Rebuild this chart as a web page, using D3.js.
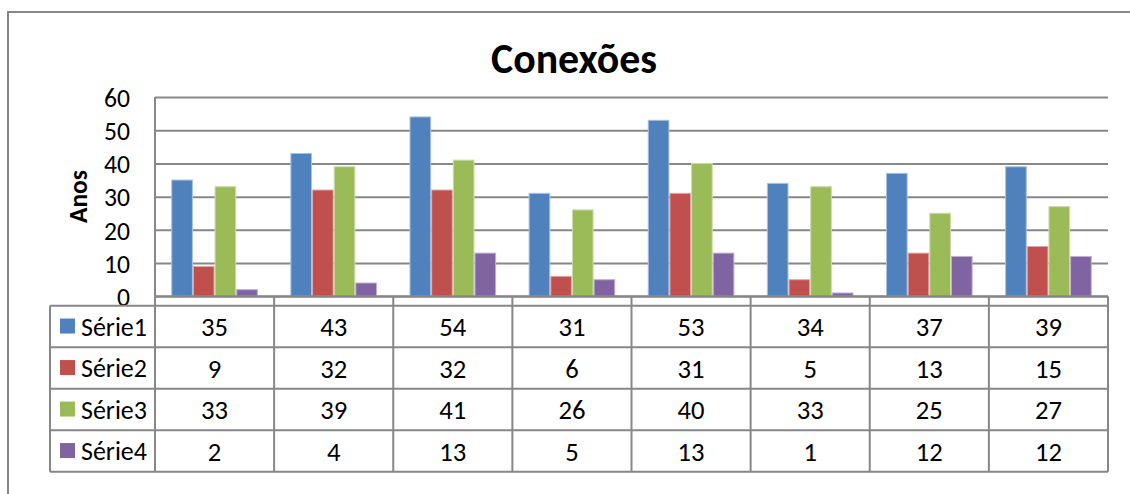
<!DOCTYPE html>
<html>
<head>
<meta charset="utf-8">
<script src="https://cdn.jsdelivr.net/npm/d3@7"></script>
<style>
  html, body { margin: 0; padding: 0; background: #fff; }
  svg { display: block; }
  text { font-family: Carlito, Calibri, Lato, "Open Sans", sans-serif; fill: #000; }
</style>
</head>
<body>
<svg id="chart" width="1130" height="494"></svg>
<script>
// ---- data ----
const title = "Conexões";
const yAxisTitle = "Anos";
const categories = ["1", "2", "3", "4", "5", "6", "7", "8"];
const seriesNames = ["Série1", "Série2", "Série3", "Série4"];
const serie1 = [35, 43, 54, 31, 53, 34, 37, 39];
const serie2 = [9, 32, 32, 6, 31, 5, 13, 15];
const serie3 = [33, 39, 41, 26, 40, 33, 25, 27];
const serie4 = [2, 4, 13, 5, 13, 1, 12, 12];
const yTicks = [0, 10, 20, 30, 40, 50, 60];
const colors = ["#4F81BD", "#C0504D", "#9BBB59", "#8064A2"];
const edgeColors = ["#a9c1e0", "#e0a8a6", "#cddcab", "#bfb1d1"];

const seriesValues = [serie1, serie2, serie3, serie4];

// ---- layout ----
const svg = d3.select("#chart");
const FONT = "Carlito, Calibri, Lato, 'Open Sans', sans-serif";
const plotL = 155, plotR = 1108, plotT = 97, plotB = 296.3;
const headerB = 305.8;
const tableL = 50;
const rowH = 41.5;
const gridColor = "#878787";

// font size that makes a sample string a given width
function fitSize(str, width, weight) {
  const tmp = svg.append("text").attr("font-size", 100).attr("font-family", FONT)
    .attr("font-weight", weight || "normal").text(str);
  const w = tmp.node().getComputedTextLength();
  tmp.remove();
  return 100 * width / w;
}
const titleSize = fitSize(title, 166, "bold");
const tickSize = fitSize("60", 26);
const labelSize = fitSize("Série1", 66);
const valueSize = fitSize("35", 27);
const axisTitleSize = fitSize(yAxisTitle, 53, "bold");

const x0 = d3.scaleBand().domain(categories).range([plotL, plotR]).paddingInner(0).paddingOuter(0);
const barW = x0.bandwidth() / (seriesNames.length + 1.5);
const x1 = d3.scaleBand().domain(seriesNames)
  .range([barW * 0.75, x0.bandwidth() - barW * 0.75]).padding(0);
const y = d3.scaleLinear().domain([0, 60]).range([plotB, plotT]);

// outer frame (clipped by the picture on the right and bottom)
svg.append("path")
  .attr("d", "M8,494 L8,12 L1130,12")
  .attr("fill", "none").attr("stroke", gridColor).attr("stroke-width", 2);

// title
svg.append("text")
  .attr("x", 574).attr("y", 72.5)
  .attr("text-anchor", "middle")
  .attr("font-weight", "bold")
  .attr("font-size", titleSize)
  .text(title);

// gridlines + tick labels
const yAxis = d3.axisLeft(y).tickValues(yTicks).tickSize(-(plotR - plotL)).tickFormat(d3.format("d"));
const gy = svg.append("g").attr("transform", `translate(${plotL},0)`).call(yAxis)
  .attr("font-family", FONT).attr("font-size", tickSize);
gy.select(".domain").remove();
gy.selectAll(".tick line").attr("stroke", gridColor).attr("stroke-width", 2);
gy.selectAll(".tick text").attr("fill", "#000").attr("dy", "0.36em")
  .attr("x", 130 - plotL);

// y-axis vertical line
svg.append("line").attr("x1", plotL).attr("x2", plotL).attr("y1", plotT).attr("y2", plotB)
  .attr("stroke", gridColor).attr("stroke-width", 2);

// y axis title
svg.append("text")
  .attr("transform", `translate(87,196.5) rotate(-90)`)
  .attr("text-anchor", "middle")
  .attr("font-weight", "bold")
  .attr("font-size", axisTitleSize)
  .text(yAxisTitle);

// bars
seriesNames.forEach((s, si) => {
  svg.append("g").selectAll("rect")
    .data(categories.map((c, i) => ({ c, v: seriesValues[si][i] })))
    .join("rect")
    .attr("x", d => x0(d.c) + x1(s) + 0.5)
    .attr("y", d => y(d.v))
    .attr("width", x1.bandwidth() - 1)
    .attr("height", d => y(0) - y(d.v))
    .attr("fill", colors[si])
    .attr("stroke", edgeColors[si])
    .attr("stroke-width", 1);
});

// data table
const tableB = headerB + rowH * seriesNames.length;
const lineAttrs = sel => sel.attr("stroke", gridColor).attr("stroke-width", 2);
lineAttrs(svg.append("line").attr("x1", plotL).attr("x2", plotR).attr("y1", plotB).attr("y2", plotB));
d3.range(seriesNames.length + 1).forEach(i => {
  const yy = headerB + i * rowH;
  lineAttrs(svg.append("line").attr("x1", tableL).attr("x2", plotR).attr("y1", yy).attr("y2", yy));
});
lineAttrs(svg.append("line").attr("x1", tableL).attr("x2", tableL).attr("y1", headerB).attr("y2", tableB));
categories.concat([null]).forEach(c => {
  const xx = c === null ? plotR : x0(c);
  lineAttrs(svg.append("line").attr("x1", xx).attr("x2", xx).attr("y1", plotB).attr("y2", tableB));
});

// legend keys, labels and values
seriesNames.forEach((s, si) => {
  const cy = headerB + rowH * (si + 0.5);
  svg.append("rect").attr("x", 60).attr("y", cy - 8).attr("width", 15).attr("height", 15)
    .attr("fill", colors[si]);
  svg.append("text").attr("x", 81).attr("y", cy).attr("dy", "0.36em")
    .attr("font-size", labelSize).text(s);
  categories.forEach((c, i) => {
    svg.append("text")
      .attr("x", x0(c) + x0.bandwidth() / 2)
      .attr("y", cy).attr("dy", "0.36em")
      .attr("text-anchor", "middle")
      .attr("font-size", valueSize)
      .text(seriesValues[si][i]);
  });
});
</script>
</body>
</html>
